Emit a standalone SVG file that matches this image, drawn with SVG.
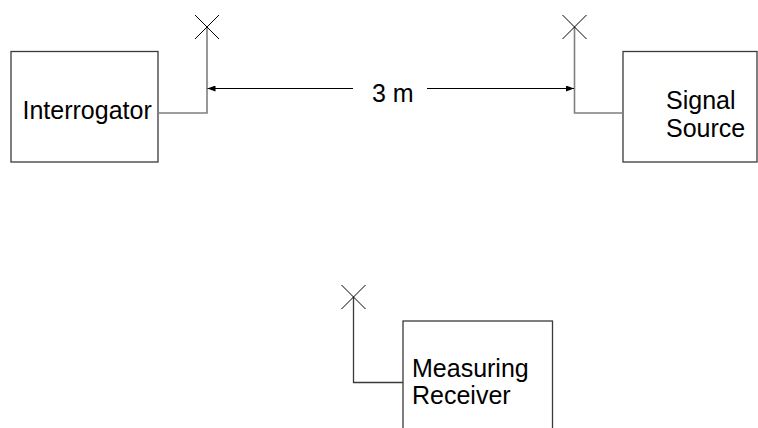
<svg xmlns="http://www.w3.org/2000/svg" width="758" height="428" viewBox="0 0 758 428">
  <defs>
    <style>
      .box { fill: #ffffff; stroke: #3a3a3a; stroke-width: 1.3; }
      .label { font-family: "Liberation Sans", Arial, sans-serif; font-size: 25px; fill: #000000; }
      .feed { fill: none; stroke: #7f7f7f; stroke-width: 1.6; }
      .feed2 { fill: none; stroke: #3a3a3a; stroke-width: 1.3; }
      .ant { fill: none; stroke: #000000; stroke-width: 1; }
      .dim { fill: none; stroke: #000000; stroke-width: 1.2; }
    </style>
    <marker id="ah" viewBox="0 0 8 6" refX="8" refY="3" markerWidth="8" markerHeight="6" markerUnits="userSpaceOnUse" orient="auto">
      <path d="M0,0 L8,3 L0,6 Z" fill="#000000"/>
    </marker>
  </defs>
  <rect width="758" height="428" fill="#ffffff"/>

  <g id="interrogator">
    <rect class="box" x="11" y="51.5" width="147" height="110.5"/>
    <text class="label" x="22.5" y="118.5">Interrogator</text>
  </g>

  <g id="signal-source">
    <rect class="box" x="623" y="51.5" width="134" height="110.5"/>
    <text class="label" x="666" y="108.5">Signal</text>
    <text class="label" x="666" y="137">Source</text>
  </g>

  <g id="measuring-receiver">
    <rect class="box" x="403" y="321" width="149.5" height="120"/>
    <text class="label" x="412" y="376.5">Measuring</text>
    <text class="label" x="412" y="404">Receiver</text>
  </g>

  <g id="connectors">
    <!-- Interrogator antenna -->
    <polyline class="feed" points="158,113 207,113 207,27"/>
    <path class="ant" d="M195,15 L219,39 M219,15 L195,39"/>
    <!-- Signal source antenna -->
    <polyline class="feed" points="623,113 574.5,113 574.5,27"/>
    <path class="ant" d="M562.5,15 L586.5,39 M586.5,15 L562.5,39"/>
    <!-- Measuring receiver antenna -->
    <polyline class="feed2" points="403,382.5 353.5,382.5 353.5,297"/>
    <path class="ant" d="M341.5,285 L365.5,309 M365.5,285 L341.5,309"/>
    <!-- 3 m distance -->
    <line class="dim" x1="353" y1="88.5" x2="207.5" y2="88.5" marker-end="url(#ah)"/>
    <line class="dim" x1="427" y1="88.5" x2="574" y2="88.5" marker-end="url(#ah)"/>
    <text class="label" x="372" y="101.5">3 m</text>
  </g>
</svg>
